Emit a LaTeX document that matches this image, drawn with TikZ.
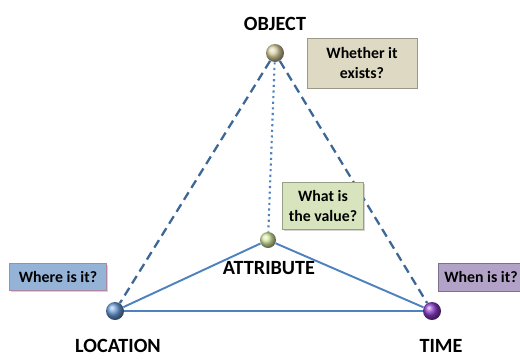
\documentclass[tikz,border=0pt]{standalone}
\usepackage{fontspec}
\setmainfont{Carlito}
\usetikzlibrary{positioning,shadows}

\tikzset{
ball/.style={circle,minimum size=0.36cm,inner sep=0pt,shading=ball},
corner/.style={font=\bfseries\fontsize{11.5}{13}\selectfont,inner sep=1pt},
question/.style={draw=#1!70!black,fill=#1,font=\bfseries\fontsize{9}{11}\selectfont,
  align=center,inner sep=3pt,drop shadow={opacity=0.35,shadow xshift=0.6pt,shadow yshift=-0.8pt}},
side/.style={draw=edgeblue,line width=1.1pt},
}
\definecolor{edgeblue}{HTML}{4F81BD}
\definecolor{dashblue}{HTML}{3C6796}
\definecolor{objfill}{HTML}{DDD9C3}
\definecolor{objball}{HTML}{D8CF9E}
\definecolor{valfill}{HTML}{D7E4BD}
\definecolor{attrball}{HTML}{D4E6A0}
\definecolor{wherefill}{HTML}{95B3D7}
\definecolor{whenfill}{HTML}{B3A2C7}
\definecolor{timeball}{HTML}{8A3CC8}
\definecolor{locball}{HTML}{6A9BD8}

\begin{document}
\begin{tikzpicture}[x=0.02cm,y=-0.02cm]
\useasboundingbox (0,0) rectangle (520,359);

\node[ball,ball color=objball] (obj) at (275,53) {};
\node[ball,ball color=locball] (loc) at (115,311) {};
\node[ball,ball color=timeball] (time) at (432,311) {};
\node[ball,ball color=attrball,minimum size=0.32cm] (attr) at (268,240) {};

\node[corner] (objlab) at (275,24) {OBJECT};
\node[corner] (loclab) at (118,346) {LOCATION};
\node[corner] (timelab) at (441,346) {TIME};
\node[corner] (attrlab) at (269,268) {ATTRIBUTE};

% the three sides and the lines to the object
\draw[side] (loc) -- (time);
\draw[side] (loc) -- (attr) -- (time);
\draw[dashblue,line width=1.3pt,dash pattern=on 5pt off 3pt] (obj) -- (loc);
\draw[dashblue,line width=1.3pt,dash pattern=on 5pt off 3pt] (obj) -- (time);
\draw[edgeblue,line width=1.2pt,dotted] (obj) -- (attr);

\node[question=objfill,minimum width=2.2cm,minimum height=1cm] (exists) at (362,63) {Whether it\\exists?};
\node[question=valfill,minimum width=1.62cm,minimum height=0.95cm] (value) at (323,206) {What is\\the value?};
\node[question=wherefill,draw=red!25!wherefill,minimum width=1.94cm,minimum height=0.54cm] (where) at (58,277) {Where is it?};
\node[question=whenfill,minimum width=1.7cm,minimum height=0.56cm] (when) at (481,277) {When is it?};
\end{tikzpicture}
\end{document}
